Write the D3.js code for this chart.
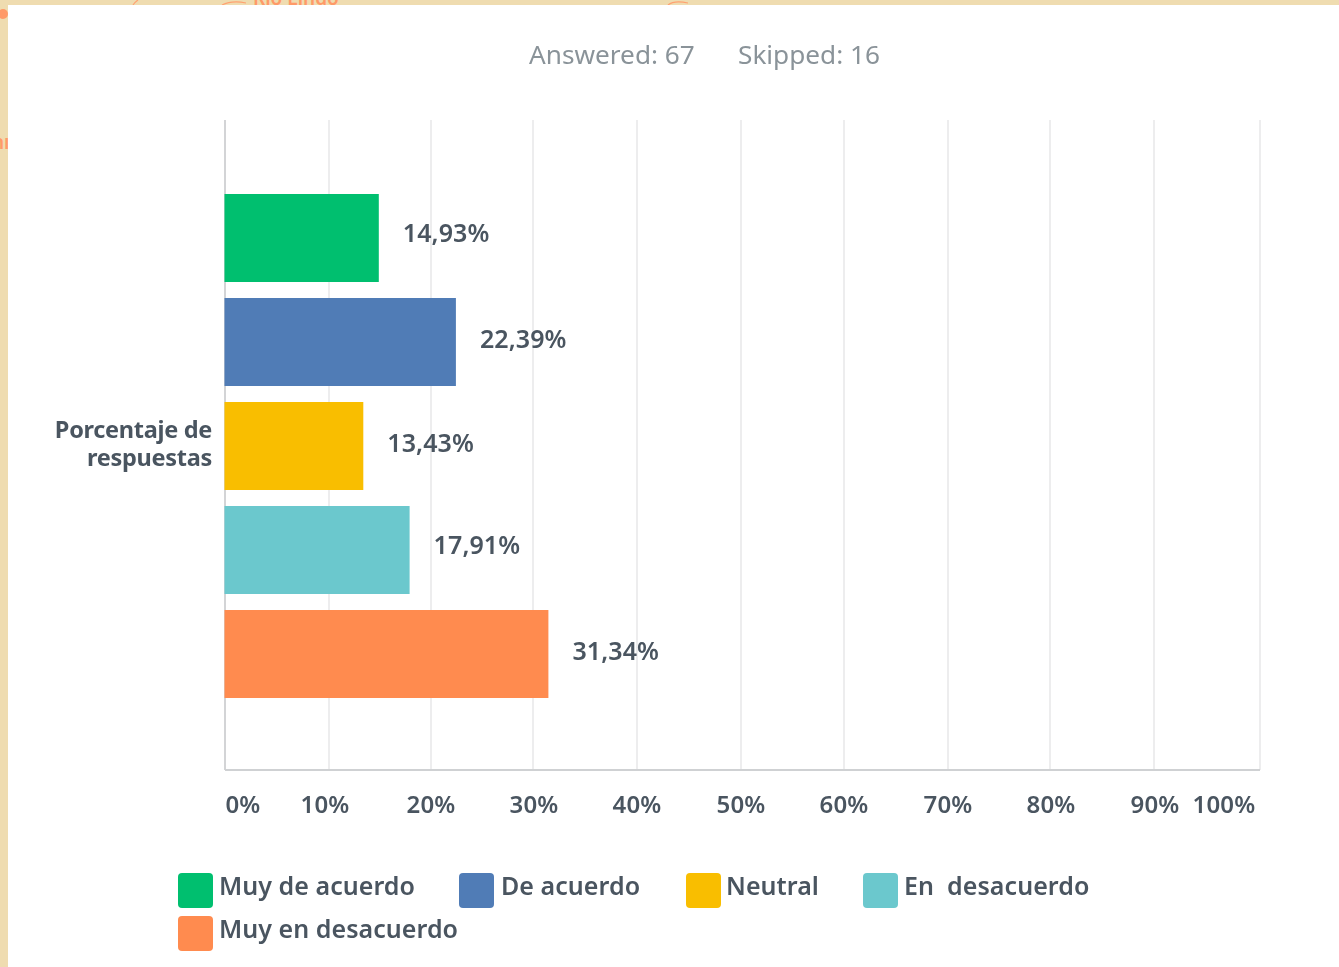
<!DOCTYPE html>
<html><head><meta charset="utf-8">
<script src="https://cdn.jsdelivr.net/npm/d3@7/dist/d3.min.js"></script>
<style>
html,body{margin:0;padding:0;background:#efdcb0;overflow:hidden}
svg{display:block}
text{font-family:"Noto Sans",sans-serif}
</style></head><body>
<div id="chart"></div>
<script>
const categories = ["Muy de acuerdo","De acuerdo","Neutral","En  desacuerdo","Muy en desacuerdo"];
const values = [14.93,22.39,13.43,17.91,31.34];
const valueLabels = ["14,93%","22,39%","13,43%","17,91%","31,34%"];
const colors = ["#00bf6f","#507cb6","#f9be00","#6bc8cd","#ff8b4f"];
const tickValues = [0,10,20,30,40,50,60,70,80,90,100];
const tickLabels = ["0%","10%","20%","30%","40%","50%","60%","70%","80%","90%","100%"];
const rowLabel = ["Porcentaje de","respuestas"];
const summary = ["Answered: 67","Skipped: 16"];

// layout
const W=1339,H=967;
const gridPositions=[225,329,431,533,637,741,844,948,1050,1154,1260];
const tickCenters=[243,325,431,534,637,741,844,948,1051,1155,1224];
const valueDy=[1,3,3,1,3];
const summaryX=[529,738];
const legendSwatchX=[178,459,686,863,178];
const legendTextX=[219,501,726,904,219];
const legendRow=[0,0,0,0,1];

const svg=d3.select("#chart").append("svg").attr("width",W).attr("height",H);
svg.append("rect").attr("width",W).attr("height",H).attr("fill","#efdcb0");
const deco=svg.append("g").attr("fill","none").attr("stroke","#ffa271").attr("stroke-width",1.2);
deco.append("circle").attr("cx",3).attr("cy",14).attr("r",5).attr("fill","#ff9a68").attr("stroke","none");
deco.append("path").attr("d","M133 5 Q135 2 138 0 M222 5 Q232 0 246 3 M668 5 Q674 0 688 3");
svg.append("text").attr("x",253).attr("y",5).attr("fill","#ff9a68").attr("font-size",19).attr("font-weight",600).text("Río Lindo");
svg.append("text").attr("x",-8).attr("y",149).attr("fill","#ff9a68").attr("font-size",19).attr("font-weight",600).text("nı");
svg.append("rect").attr("x",8).attr("y",5).attr("width",W-8).attr("height",H-5).attr("fill","#fff");

const soft=svg.append("g").style("filter","blur(0.45px)");
const x=d3.scaleLinear().domain([0,100]).range([224.5,1258]);
const gridX=d3.scaleLinear().domain(tickValues).range(gridPositions);
const y=d3.scaleBand().domain(categories).range([186,706]).paddingInner(16/104).paddingOuter(8/104);
const plotTop=120,plotBottom=770;

soft.selectAll("text.sum").data(summary).join("text").attr("class","sum")
  .attr("x",(d,i)=>summaryX[i]).attr("y",63.5).attr("font-size",26.2).attr("fill","#8a9399").text(d=>d);

soft.selectAll("line.grid").data(tickValues).join("line").attr("class","grid")
  .attr("x1",d=>gridX(d)).attr("x2",d=>gridX(d)).attr("y1",plotTop).attr("y2",plotBottom)
  .attr("stroke",d=>d===0?"#c8cacc":"#e9e9ea").attr("stroke-width",1.6);
soft.append("line").attr("x1",225).attr("x2",1260).attr("y1",plotBottom).attr("y2",plotBottom).attr("stroke","#cfd1d3").attr("stroke-width",2);

soft.selectAll("rect.bar").data(categories).join("rect").attr("class","bar")
  .attr("x",x(0)).attr("y",d=>y(d)).attr("width",(d,i)=>x(values[i])-x(0)).attr("height",y.bandwidth())
  .attr("fill",(d,i)=>colors[i]);

soft.selectAll("text.val").data(categories).join("text").attr("class","val")
  .attr("x",(d,i)=>x(values[i])+24).attr("y",(d,i)=>y(d)+y.bandwidth()/2+4+valueDy[i]-1)
  .attr("font-size",25).attr("font-weight",600).attr("fill","#4a5560").attr("letter-spacing",0.1)
  .text((d,i)=>valueLabels[i]);

soft.selectAll("text.row").data(rowLabel).join("text").attr("class","row")
  .attr("x",212).attr("y",(d,i)=>438+i*28).attr("text-anchor","end")
  .attr("font-size",23.5).attr("font-weight",700).attr("fill","#4a5560").attr("letter-spacing",-0.3).text(d=>d);

soft.selectAll("text.tick").data(tickLabels).join("text").attr("class","tick")
  .attr("x",(d,i)=>tickCenters[i]).attr("y",813).attr("text-anchor","middle")
  .attr("font-size",24).attr("font-weight",600).attr("fill","#4a5560").attr("letter-spacing",0.2).text(d=>d);

const lg=soft.selectAll("g.leg").data(categories).join("g").attr("class","leg")
  .attr("transform",(d,i)=>`translate(0,${legendRow[i]*43})`);
lg.append("rect").attr("x",(d,i)=>legendSwatchX[i]).attr("y",873).attr("width",35).attr("height",35).attr("rx",4).attr("fill",(d,i)=>colors[i]);
lg.append("text").attr("x",(d,i)=>legendTextX[i]).attr("y",895).attr("font-size",25).attr("font-weight",600).attr("fill","#4a5560")
  .attr("letter-spacing",0.05).style("white-space","pre").text(d=>d);
</script></body></html>
